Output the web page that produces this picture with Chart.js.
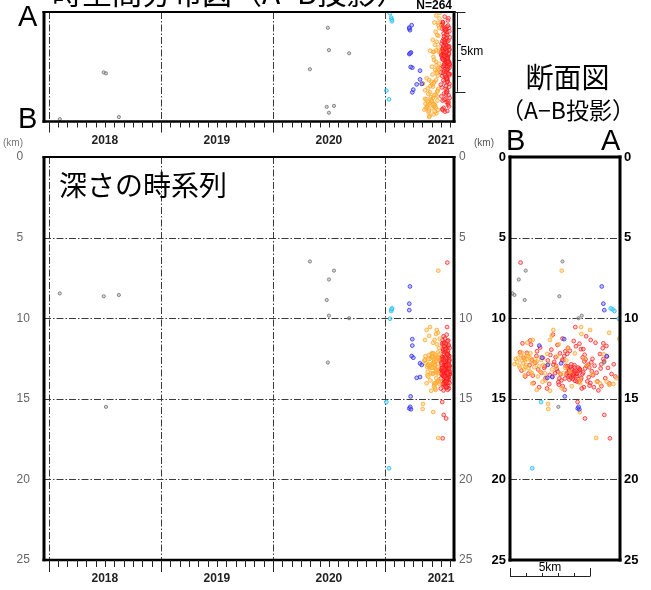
<!DOCTYPE html>
<html>
<head>
<meta charset="utf-8">
<script src="https://cdn.jsdelivr.net/npm/chart.js@4.4.1/dist/chart.umd.min.js"></script>
<style>
  html, body { margin: 0; padding: 0; background: #fff; }
  #wrap { position: relative; width: 651px; height: 590px; overflow: hidden; background: #fff; }
  #wrap canvas { position: absolute; left: 0; top: 0; }
</style>
</head>
<body>
<div id="wrap">
  <canvas id="mapTime" width="651" height="590"></canvas>
  <canvas id="depthTime" width="651" height="590"></canvas>
  <canvas id="section" width="651" height="590"></canvas>
</div>
<script>
// Hypocentres grouped by period (colour); each entry: [decimal year, distance from B along A-B (km), depth (km)]
const grayEvents = [
  [2018.098, 0.15, 8.46], [2018.490, 3.08, 8.64], [2018.510, 3.02, 15.50], [2018.625, 0.28, 8.56],
  [2020.330, 3.28, 6.48], [2020.490, 5.88, 12.75], [2020.500, 4.48, 9.84], [2020.680, 4.28, 10.00],
  [2020.545, 0.98, 7.05], [2020.480, 0.92, 8.87], [2020.500, 0.55, 7.60]
];
const cyanEvents = [
  [2021.012, 1.94, 15.20], [2021.036, 1.39, 19.31], [2021.045, 6.79, 10.03],
  [2021.055, 6.52, 9.55], [2021.060, 6.40, 9.45], [2021.063, 6.29, 9.39]
];
const blueEvents = [
  [2021.223, 5.73, 8.03], [2021.217, 5.83, 9.10], [2021.217, 5.89, 9.50], [2021.238, 6.04, 12.35],
  [2021.244, 3.38, 11.30], [2021.244, 1.83, 11.70], [2021.253, 2.00, 12.45], [2021.313, 3.19, 12.80],
  [2021.328, 2.36, 12.90], [2021.313, 2.64, 13.65], [2021.283, 2.33, 13.70], [2021.229, 3.42, 14.85],
  [2021.217, 4.23, 15.60], [2021.232, 4.33, 15.65], [2021.225, 4.28, 15.50]
];
const orangeEvents = [
  [2021.476, 3.23, 7.05], [2021.372, 2.71, 10.73], [2021.402, 4.44, 10.55], [2021.462, 5.00, 10.73],
  [2021.473, 6.19, 10.90], [2021.339, 2.38, 15.32], [2021.336, 2.39, 15.63], [2021.431, 4.36, 15.82],
  [2021.476, 5.38, 17.43], [2021.455, 4.46, 10.98],
  [2021.392, 0.67, 12.28], [2021.418, 0.83, 12.39], [2021.437, 0.94, 12.59], [2021.365, 0.83, 12.80],
  [2021.448, 1.00, 12.90], [2021.404, 1.15, 13.10], [2021.381, 1.25, 13.32], [2021.426, 1.46, 12.80],
  [2021.459, 0.52, 12.45], [2021.352, 0.74, 12.62], [2021.441, 1.08, 12.24], [2021.398, 0.35, 12.52],
  [2021.468, 1.32, 12.66], [2021.376, 0.96, 13.02], [2021.421, 1.22, 12.44], [2021.389, 0.58, 12.95],
  [2021.452, 0.88, 13.18], [2021.409, 1.52, 13.04], [2021.434, 0.45, 12.72], [2021.361, 1.12, 12.36],
  [2021.472, 0.72, 12.12], [2021.413, 1.38, 13.42], [2021.386, 1.05, 12.55], [2021.445, 0.62, 13.08],
  [2021.357, 1.42, 11.35], [2021.429, 1.08, 11.52], [2021.395, 0.28, 12.85], [2021.463, 1.58, 12.52],
  [2021.378, 0.92, 13.55], [2021.417, 1.28, 12.18],
  [2021.439, 1.67, 12.70], [2021.402, 1.83, 12.97], [2021.466, 1.88, 13.32], [2021.383, 2.08, 12.90],
  [2021.428, 2.19, 13.42], [2021.371, 1.39, 14.04], [2021.451, 1.67, 14.45], [2021.412, 2.50, 14.50],
  [2021.476, 2.04, 13.94], [2021.394, 2.60, 11.10], [2021.443, 2.50, 11.35], [2021.357, 1.95, 12.58],
  [2021.421, 2.32, 12.22], [2021.457, 2.62, 13.18], [2021.387, 1.74, 13.62], [2021.435, 2.41, 12.82],
  [2021.469, 1.92, 12.42], [2021.405, 2.22, 13.86],
  [2021.448, 3.23, 14.35], [2021.462, 3.13, 13.42], [2021.474, 3.33, 13.42], [2021.455, 3.75, 13.32],
  [2021.481, 4.38, 13.83], [2021.438, 4.38, 14.04], [2021.466, 5.42, 13.94], [2021.452, 5.63, 14.04],
  [2021.478, 6.04, 13.94], [2021.441, 6.21, 14.14], [2021.486, 6.46, 14.08], [2021.425, 2.95, 12.35],
  [2021.459, 3.52, 12.62], [2021.471, 2.88, 13.02], [2021.433, 4.05, 12.18], [2021.483, 3.62, 11.85],
  [2021.446, 4.82, 12.92], [2021.464, 3.04, 11.62], [2021.427, 5.12, 13.46], [2021.489, 6.82, 11.28],
  [2021.458, 6.65, 13.72], [2021.437, 3.86, 14.22], [2021.476, 4.65, 12.48], [2021.419, 3.44, 13.08],
  [2021.484, 5.86, 12.24]
];
const redEvents = [
  [2021.556, 0.66, 6.55], [2021.554, 4.08, 10.55], [2021.511, 4.22, 15.20], [2021.524, 5.89, 16.00],
  [2021.546, 4.68, 16.22], [2021.515, 6.24, 17.45], [2021.538, 5.70, 12.86], [2021.529, 5.83, 11.56],
  [2021.532, 3.62, 13.12], [2021.548, 3.85, 13.35], [2021.561, 4.02, 13.05], [2021.519, 4.21, 13.58],
  [2021.574, 3.71, 13.81], [2021.503, 4.38, 13.22], [2021.540, 3.95, 13.66], [2021.566, 4.12, 13.44],
  [2021.527, 3.48, 12.95], [2021.552, 4.45, 13.71], [2021.536, 3.78, 13.02], [2021.571, 4.27, 13.28],
  [2021.511, 3.91, 13.52], [2021.544, 4.06, 13.88], [2021.558, 3.57, 13.39], [2021.497, 4.33, 13.12],
  [2021.563, 3.66, 13.61], [2021.529, 4.18, 13.93], [2021.551, 3.82, 12.86], [2021.577, 4.52, 13.47],
  [2021.516, 3.99, 13.27], [2021.546, 3.44, 13.74], [2021.568, 4.25, 13.06], [2021.538, 3.73, 13.55],
  [2021.507, 4.09, 13.31], [2021.555, 4.41, 13.83], [2021.522, 3.87, 13.16], [2021.573, 3.59, 12.98],
  [2021.542, 4.15, 13.62], [2021.561, 3.96, 13.41], [2021.531, 4.31, 13.95], [2021.549, 3.69, 13.25],
  [2021.514, 4.57, 13.37], [2021.565, 3.80, 13.69], [2021.535, 4.03, 12.92], [2021.578, 3.52, 13.49],
  [2021.524, 4.36, 13.18], [2021.557, 3.92, 13.77], [2021.501, 4.19, 13.44], [2021.569, 3.75, 13.36],
  [2021.512, 2.85, 12.42], [2021.547, 3.12, 12.18], [2021.573, 4.72, 12.55], [2021.528, 4.95, 13.05],
  [2021.559, 2.64, 13.62], [2021.495, 3.33, 12.62], [2021.541, 4.83, 13.92], [2021.566, 5.08, 12.74],
  [2021.519, 3.05, 14.12], [2021.553, 4.61, 14.28], [2021.534, 2.92, 13.15], [2021.575, 3.38, 12.35],
  [2021.505, 4.88, 12.88], [2021.549, 3.21, 13.86], [2021.562, 4.66, 12.27], [2021.523, 5.18, 13.54],
  [2021.538, 2.76, 12.71], [2021.571, 4.48, 14.36], [2021.517, 3.45, 12.05], [2021.556, 5.02, 14.02],
  [2021.529, 3.16, 13.48], [2021.545, 4.79, 12.96], [2021.579, 2.98, 13.31], [2021.509, 4.54, 12.44],
  [2021.564, 3.29, 14.21], [2021.533, 4.92, 13.66], [2021.551, 2.71, 12.88], [2021.526, 3.58, 12.21],
  [2021.568, 4.69, 13.12], [2021.499, 3.08, 13.74], [2021.543, 5.15, 12.52], [2021.559, 3.41, 14.44],
  [2021.515, 4.43, 11.92], [2021.572, 2.88, 12.95], [2021.537, 4.97, 14.18], [2021.554, 3.26, 12.58],
  [2021.521, 4.64, 12.68], [2021.566, 3.02, 13.97], [2021.531, 5.11, 13.29], [2021.548, 2.81, 13.41],
  [2021.524, 0.86, 12.48], [2021.551, 1.22, 12.92], [2021.568, 1.65, 12.34], [2021.508, 2.14, 13.08],
  [2021.539, 1.42, 13.56], [2021.575, 2.36, 12.62], [2021.517, 0.72, 13.25], [2021.556, 1.88, 11.82],
  [2021.532, 2.45, 14.08], [2021.562, 1.05, 12.15], [2021.503, 1.58, 12.76], [2021.546, 2.22, 13.72],
  [2021.571, 0.95, 13.62], [2021.528, 1.76, 13.18], [2021.559, 2.52, 12.28], [2021.514, 1.31, 11.64],
  [2021.542, 2.05, 12.46], [2021.577, 1.48, 14.02], [2021.535, 0.62, 12.12], [2021.553, 1.96, 13.38],
  [2021.521, 2.58, 11.95], [2021.566, 1.15, 13.44], [2021.498, 2.31, 14.36], [2021.544, 1.69, 12.05],
  [2021.573, 2.18, 12.98], [2021.529, 1.37, 12.58], [2021.557, 2.48, 13.52], [2021.511, 0.78, 11.56],
  [2021.548, 1.82, 14.28], [2021.565, 1.26, 11.38],
  [2021.527, 5.34, 11.52], [2021.555, 5.62, 12.22], [2021.572, 5.88, 12.68], [2021.513, 6.12, 13.08],
  [2021.546, 5.46, 13.92], [2021.561, 6.34, 13.46], [2021.536, 5.71, 14.22], [2021.578, 5.28, 12.95],
  [2021.504, 6.05, 12.38], [2021.552, 5.95, 13.72], [2021.523, 5.52, 14.48], [2021.567, 6.48, 12.86],
  [2021.541, 5.79, 11.86], [2021.558, 5.41, 13.38], [2021.518, 6.21, 14.05], [2021.574, 5.66, 13.12],
  [2021.533, 6.58, 13.62], [2021.549, 5.24, 14.28], [2021.563, 6.02, 11.72], [2021.509, 5.83, 12.54],
  [2021.535, 3.28, 11.26], [2021.557, 3.98, 11.42], [2021.522, 4.76, 11.12], [2021.569, 2.96, 11.66],
  [2021.544, 4.34, 11.58], [2021.576, 3.62, 11.84], [2021.513, 5.04, 11.35], [2021.551, 2.68, 11.02],
  [2021.528, 4.12, 11.74], [2021.562, 3.74, 12.02], [2021.539, 4.58, 11.92]
];

const yearTicks = [2018, 2019, 2020, 2021];
const depthTicks = [0, 5, 10, 15, 20, 25];
const depthGrid = [5, 10, 15, 20];

// Axis ranges
const T_MIN = 2017.957, T_MAX = 2021.616;
const AB_LEN = 6.87;     // length of the A-B profile (km)
const DEPTH_MAX = 25;
const SCALE_KM = 5;

const groups = [
  { events: grayEvents,   fill: 'rgba(160,160,160,0.45)', line: 'rgba(120,120,120,0.85)', r: 1.6 },
  { events: cyanEvents,   fill: 'rgba(110,215,250,0.5)',  line: 'rgba(40,190,240,0.85)',  r: 1.9 },
  { events: blueEvents,   fill: 'rgba(110,110,255,0.45)', line: 'rgba(50,50,240,0.8)',    r: 1.9 },
  { events: orangeEvents, fill: 'rgba(255,195,100,0.45)', line: 'rgba(255,165,40,0.75)',  r: 1.9 },
  { events: redEvents,    fill: 'rgba(255,110,110,0.35)', line: 'rgba(255,20,20,0.7)',    r: 1.9 }
];
const totalEvents = groups.reduce((n, g) => n + g.events.length, 0);

const W = 651, H = 590;
const DASH = [7, 2, 1.5, 2];
const LATIN = '"Liberation Sans", Arial, sans-serif';
const CJK = '"Noto Sans CJK JP", "Noto Sans CJK SC", sans-serif';

function seg(ctx, x1, y1, x2, y2) {
  ctx.beginPath(); ctx.moveTo(x1, y1); ctx.lineTo(x2, y2); ctx.stroke();
}
function label(ctx, s, x, y, font, color, align, base) {
  ctx.font = font; ctx.fillStyle = color;
  ctx.textAlign = align || 'left'; ctx.textBaseline = base || 'alphabetic';
  ctx.fillText(s, x, y);
}

// Grid, frame and annotation drawing for one panel
function decor(opts) {
  return {
    id: 'decor',
    beforeDatasetsDraw(chart) {
      const { ctx, chartArea: a, scales: { x, y } } = chart;
      ctx.save();
      ctx.strokeStyle = '#3a3a3a'; ctx.lineWidth = 1; ctx.setLineDash(DASH);
      (opts.vGrid || []).forEach(v => {
        const px = Math.round(x.getPixelForValue(v)) + 0.5;
        seg(ctx, px, a.top, px, a.bottom);
      });
      (opts.hGrid || []).forEach(v => {
        const py = Math.round(y.getPixelForValue(v)) + 0.5;
        seg(ctx, a.left, py, a.right, py);
      });
      ctx.restore();
    },
    afterDatasetsDraw(chart) {
      const { ctx, chartArea: a } = chart;
      const [ft, fr, fb, fl] = opts.frame;
      ctx.save();
      ctx.strokeStyle = '#000'; ctx.setLineDash([]); ctx.lineCap = 'butt';
      ctx.lineWidth = ft; seg(ctx, a.left - fl / 2, a.top, a.right + fr / 2, a.top);
      ctx.lineWidth = fb; seg(ctx, a.left - fl / 2, a.bottom, a.right + fr / 2, a.bottom);
      ctx.lineWidth = fl; seg(ctx, a.left, a.top - ft / 2, a.left, a.bottom + fb / 2);
      ctx.lineWidth = fr; seg(ctx, a.right, a.top - ft / 2, a.right, a.bottom + fb / 2);
      ctx.restore();
      ctx.save();
      opts.extra(chart, ctx, a);
      ctx.restore();
    }
  };
}

// Month ticks and year labels under a time axis
function timeAxis(ctx, xs, a, minorLen, majorLen, labelY) {
  ctx.strokeStyle = '#222'; ctx.lineWidth = 1; ctx.setLineDash([]);
  for (let m = 0; ; m++) {
    const v = yearTicks[0] + m / 12;
    if (v > T_MAX) break;
    const px = Math.round(xs.getPixelForValue(v)) + 0.5;
    const major = m % 12 === 0;
    seg(ctx, px, a.bottom, px, a.bottom + (major ? majorLen : minorLen));
  }
  yearTicks.forEach(yr => {
    label(ctx, String(yr), xs.getPixelForValue(yr + 0.5), labelY,
      'bold 12px ' + LATIN, '#222', 'center', 'middle');
  });
}

function makeChart(id, area, scales, toPoint, opts) {
  return new Chart(document.getElementById(id), {
    type: 'scatter',
    data: {
      datasets: groups.map(g => ({
        data: g.events.map(toPoint),
        backgroundColor: g.fill,
        borderColor: g.line,
        borderWidth: 1,
        pointRadius: g.r,
        pointHoverRadius: g.r
      }))
    },
    options: {
      responsive: false,
      animation: false,
      devicePixelRatio: 1,
      events: [],
      layout: { padding: { left: area.l, right: W - area.r, top: area.t, bottom: H - area.b } },
      plugins: { legend: { display: false }, tooltip: { enabled: false } },
      scales: scales
    },
    plugins: [decor(opts)]
  });
}

// Space-time plot (projection on A-B)
makeChart('mapTime', { l: 44, r: 454, t: 12, b: 121.5 }, {
  x: { type: 'linear', display: false, min: T_MIN, max: T_MAX },
  y: { type: 'linear', display: false, min: 0, max: AB_LEN }
}, e => ({ x: e[0], y: e[1] }), {
  vGrid: yearTicks,
  frame: [2, 3, 2.5, 3],
  extra(chart, ctx, a) {
    const xs = chart.scales.x, ys = chart.scales.y;
    timeAxis(ctx, xs, a, 6, 11, 141);
    label(ctx, '時空間分布図（A−B投影）', 52, 4, '30px ' + CJK, '#000', 'left', 'alphabetic');
    label(ctx, 'A', 18, 26, '29px ' + LATIN, '#000', 'left', 'alphabetic');
    label(ctx, 'B', 18, 128, '29px ' + LATIN, '#000', 'left', 'alphabetic');
    label(ctx, 'N=' + totalEvents, 452, 9, 'bold 12px ' + LATIN, '#000', 'right', 'alphabetic');
    // 5 km scale bar
    const bx = a.right + 3.5;
    const y0 = ys.getPixelForValue(AB_LEN), y1 = ys.getPixelForValue(AB_LEN - SCALE_KM);
    ctx.strokeStyle = '#222'; ctx.lineWidth = 1;
    seg(ctx, bx, y0, bx, y1);
    for (let k = 0; k <= SCALE_KM; k++) {
      const py = Math.round(ys.getPixelForValue(AB_LEN - k)) + 0.5;
      const end = k === 0 || k === SCALE_KM;
      seg(ctx, end ? a.right : bx, py, bx + (end ? 8 : 3.5), py);
    }
    label(ctx, SCALE_KM + 'km', bx + 3, (y0 + y1) / 2 - 0.5, '12px ' + LATIN, '#000', 'left', 'middle');
  }
});

// Depth versus time
makeChart('depthTime', { l: 44, r: 454, t: 157, b: 560 }, {
  x: { type: 'linear', display: false, min: T_MIN, max: T_MAX },
  y: { type: 'linear', display: false, min: 0, max: DEPTH_MAX, reverse: true }
}, e => ({ x: e[0], y: e[2] }), {
  vGrid: yearTicks,
  hGrid: depthGrid,
  frame: [2, 3, 2.5, 3],
  extra(chart, ctx, a) {
    const xs = chart.scales.x, ys = chart.scales.y;
    timeAxis(ctx, xs, a, 7, 12, 579);
    depthTicks.forEach(d => {
      const py = ys.getPixelForValue(d);
      label(ctx, String(d), 16.5, py, '12px ' + LATIN, '#666', 'left', 'middle');
      label(ctx, String(d), 459, py, '12px ' + LATIN, '#666', 'left', 'middle');
    });
    label(ctx, '(km)', 3, 143, '10px ' + LATIN, '#777', 'left', 'middle');
    label(ctx, '深さの時系列', 59, 185, '28px ' + CJK, '#000', 'left', 'middle');
  }
});

// Cross section along A-B
makeChart('section', { l: 510, r: 620, t: 157, b: 560 }, {
  x: { type: 'linear', display: false, min: 0, max: AB_LEN },
  y: { type: 'linear', display: false, min: 0, max: DEPTH_MAX, reverse: true }
}, e => ({ x: e[1], y: e[2] }), {
  hGrid: depthGrid,
  frame: [3, 3, 3, 3],
  extra(chart, ctx, a) {
    const xs = chart.scales.x, ys = chart.scales.y;
    depthTicks.forEach(d => {
      const py = ys.getPixelForValue(d);
      label(ctx, String(d), 506, py, 'bold 13px ' + LATIN, '#000', 'right', 'middle');
      label(ctx, String(d), 624, py, 'bold 13px ' + LATIN, '#000', 'left', 'middle');
    });
    label(ctx, '(km)', 474, 143, '10px ' + LATIN, '#555', 'left', 'middle');
    label(ctx, 'B', 506, 150, '29px ' + LATIN, '#000', 'left', 'alphabetic');
    label(ctx, 'A', 601, 150, '29px ' + LATIN, '#000', 'left', 'alphabetic');
    label(ctx, '断面図', 567.5, 77, '28px ' + CJK, '#000', 'center', 'middle');
    label(ctx, '（A−B投影）', 568, 110, '23px ' + CJK, '#000', 'center', 'middle');
    // 5 km scale bar
    const by = 576.5;
    const x0 = xs.getPixelForValue(0), x1 = xs.getPixelForValue(SCALE_KM);
    ctx.strokeStyle = '#222'; ctx.lineWidth = 1;
    seg(ctx, x0, by, x1, by);
    for (let k = 0; k <= SCALE_KM; k++) {
      const px = Math.round(xs.getPixelForValue(k)) + 0.5;
      const end = k === 0 || k === SCALE_KM;
      seg(ctx, px, by, px, by - (end ? 8.5 : 3.5));
    }
    label(ctx, SCALE_KM + 'km', (x0 + x1) / 2, 568, '12px ' + LATIN, '#000', 'center', 'middle');
  }
});
</script>
</body>
</html>
